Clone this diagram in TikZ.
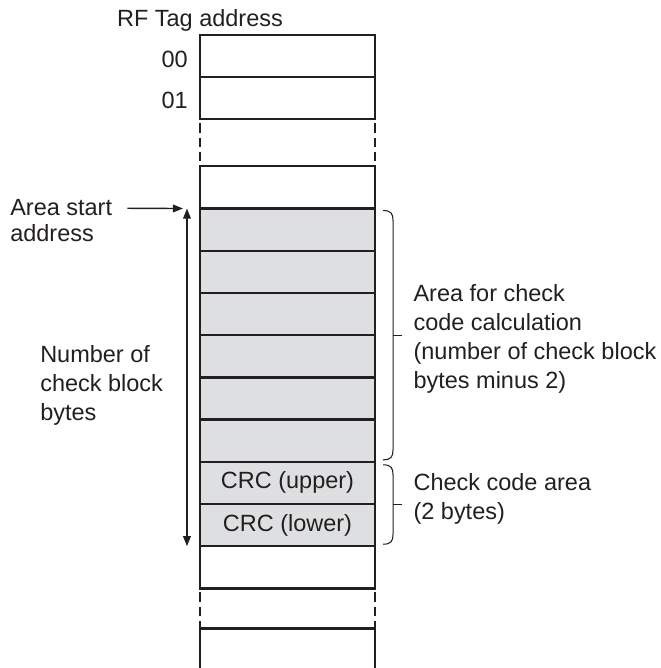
\documentclass[tikz,border=0pt]{standalone}
\usepackage{fontspec}
\setmainfont{Liberation Sans}
\usetikzlibrary{arrows.meta,positioning}
\definecolor{cellgray}{HTML}{DEDFE0}
\definecolor{ink}{HTML}{231F20}

\begin{document}
\begin{tikzpicture}[x=0.025cm,y=-0.025cm,
  cell/.style={draw=ink,line width=1.6pt,minimum width=4.375cm,minimum height=1.055cm,
    inner sep=0pt,outer sep=0pt,text=ink,font=\fontsize{16.7}{20.6}\selectfont},
  shaded/.style={cell,fill=cellgray},
  lbl/.style={inner sep=0pt,align=left,text=ink,font=\fontsize{16.7}{20.6}\selectfont},
  gapline/.style={draw=ink,line width=1.6pt,dash pattern=on 0.23cm off 0.13cm,dash phase=0.26cm},
  flow/.style={-{Triangle[length=0.25cm,width=0.19cm]},line width=1pt,draw=ink},
  both/.style={flow,{Triangle[length=0.25cm,width=0.19cm]}-{Triangle[length=0.25cm,width=0.19cm]}},
  brc/.style={line width=0.75pt,draw=ink}]
\useasboundingbox (0,0) rectangle (661,668);
\clip (0,0) rectangle (661,668);

\node[cell] (r00) at (287.5,56) {};
\node[cell,below=0cm of r00] (r01) {};
\node[cell,below=1.175cm of r01] (rpre) {};
\node[shaded,below=0cm of rpre] (ra1) {};
\node[shaded,below=0cm of ra1] (ra2) {};
\node[shaded,below=0cm of ra2] (ra3) {};
\node[shaded,below=0cm of ra3] (ra4) {};
\node[shaded,below=0cm of ra4] (ra5) {};
\node[shaded,below=0cm of ra5] (ra6) {};
\node[shaded,below=0cm of ra6] (crcup) {CRC (upper)};
\node[shaded,below=0cm of crcup] (crclow) {CRC (lower)};
\node[cell,below=0cm of crclow] (rpost) {};
\node[cell,below=1.0cm of rpost] (rend) {};

\draw[gapline] (r01.south west) -- (rpre.north west);
\draw[gapline] (r01.south east) -- (rpre.north east);
\draw[gapline] (rpost.south west) -- (rend.north west);
\draw[gapline] (rpost.south east) -- (rend.north east);

\node[lbl,above=0.08cm of r00.north west] (taglbl) {RF Tag address};
\node[lbl,left=0.3cm of r00,yshift=-0.08cm] (a00) {00};
\node[lbl,left=0.3cm of r01,yshift=-0.05cm] (a01) {01};

\coordinate (vtop) at ([xshift=-0.325cm]ra1.north west);
\coordinate (vbot) at ([xshift=-0.325cm]crclow.south west);
\node[lbl,anchor=west] (startlbl) at (10,208) {Area start};
\node[lbl,anchor=west] (addrlbl) at (10,233) {address};
\draw[flow,shorten <=0.375cm,shorten >=0.1cm] (startlbl) -- (vtop);
\draw[both] (vtop) -- (vbot);
\node[lbl,anchor=west] (countlbl) at (40,385) {Number of\\check block\\bytes};

\coordinate (calctop) at ([xshift=0.2cm,yshift=-0.05cm]ra1.north east);
\coordinate (calcbot) at ([xshift=0.2cm,yshift=0.05cm]ra6.south east);
\path (calctop) -- (calcbot) coordinate[midway] (calcmid);
\draw[brc] (calctop) .. controls +(8,0) and +(0,-7) .. ([shift={(10,10)}]calctop)
  -- ([shift={(10,-10)}]calcbot) .. controls +(0,7) and +(8,0) .. (calcbot);
\draw[brc] ([xshift=0.25cm]calcmid) -- ([xshift=0.475cm]calcmid)
  node[right=0.275cm,lbl,yshift=-0.1cm] (calclbl) {Area for check\\code calculation\\(number of check block\\bytes minus 2)};

\coordinate (codetop) at ([xshift=0.2cm,yshift=-0.075cm]crcup.north east);
\coordinate (codebot) at ([xshift=0.2cm,yshift=0.05cm]crclow.south east);
\path (codetop) -- (codebot) coordinate[midway] (codemid);
\draw[brc] (codetop) .. controls +(8,0) and +(0,-7) .. ([shift={(10,10)}]codetop)
  -- ([shift={(10,-10)}]codebot) .. controls +(0,7) and +(8,0) .. (codebot);
\draw[brc] ([xshift=0.25cm]codemid) -- ([xshift=0.475cm]codemid)
  node[right=0.275cm,lbl,yshift=0.15cm] (codelbl) {Check code area\\(2 bytes)};
\end{tikzpicture}
\end{document}
